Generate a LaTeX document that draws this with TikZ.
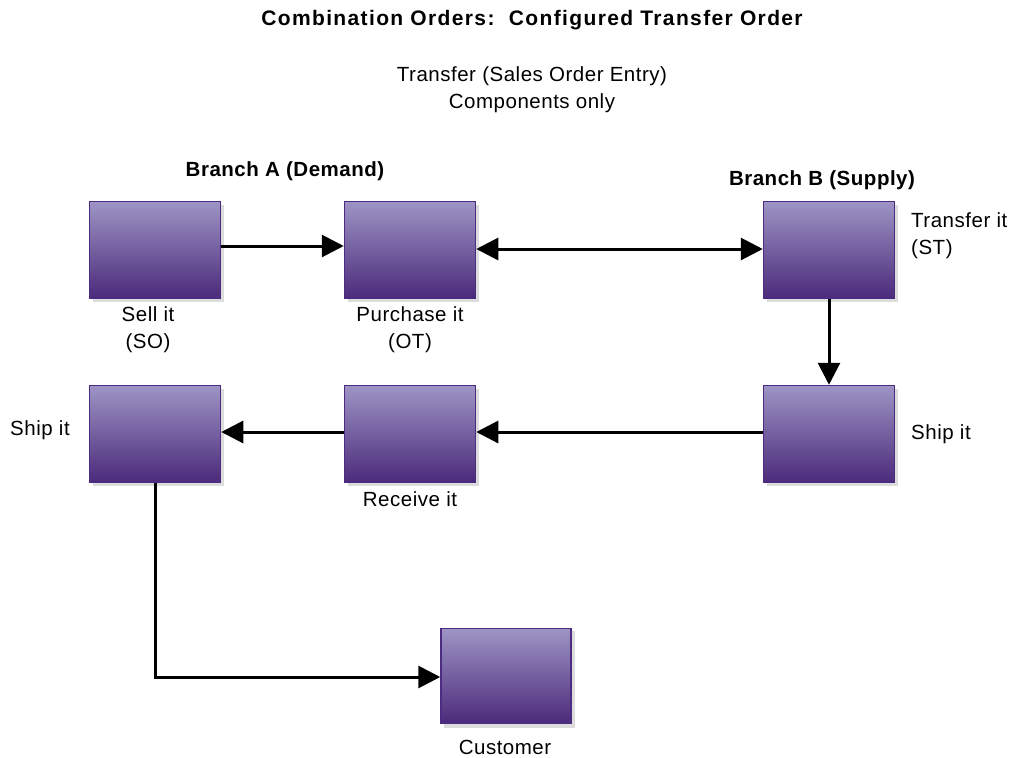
\documentclass[tikz,border=0pt]{standalone}
\usepackage{fontspec}
\setmainfont{Liberation Sans}
\newfontfamily\labelfont[LetterSpace=2.5]{Liberation Sans}
\newfontfamily\titlefont[LetterSpace=6.5]{Liberation Sans}
\usetikzlibrary{arrows.meta}
\definecolor{boxtop}{HTML}{9D94C4}
\definecolor{boxbot}{HTML}{4B2A7B}
\definecolor{boxedge}{HTML}{4B2C80}
\definecolor{shadowgray}{HTML}{DCDCDC}
\begin{document}
\begin{tikzpicture}[x=1pt,y=-1pt,
  stepbox/.style={minimum width=131pt,minimum height=97pt,inner sep=0pt,
    draw=boxedge,line width=1.5pt,top color=boxtop,bottom color=boxbot},
  boxshadow/.style={fill=shadowgray},
  label/.style={font=\labelfont\fontsize{20.5}{27}\selectfont,align=center,inner sep=0pt},
  heading/.style={font=\labelfont\bfseries\fontsize{20.5}{27}\selectfont,inner sep=0pt},
  flow/.style={line width=3pt,-{Triangle[length=22pt,width=22pt]}},
  flowtwo/.style={line width=3pt,{Triangle[length=22pt,width=22pt]}-{Triangle[length=22pt,width=22pt]}}]
\useasboundingbox (0,0) rectangle (1013,758);

% drop shadows under the boxes
\foreach \cx/\cy in {155.5/250.5,410.5/250.5,829.5/250.5,829.5/434.5,410.5/434.5,155.5/434.5,506/676.5}
  \fill[boxshadow] (\cx-62.5,\cy-45.5) rectangle (\cx+68.5,\cy+51.5);

% process boxes
\node[stepbox] (sell)     at (155,250) {};
\node[stepbox] (purchase) at (410,250) {};
\node[stepbox] (transfer) at (829,250) {};
\node[stepbox] (shipb)    at (829,434) {};
\node[stepbox] (receive)  at (410,434) {};
\node[stepbox] (shipa)    at (155,434) {};
\node[stepbox,minimum width=130pt,minimum height=95pt] (customer) at (506,676) {};

% titles
\node[inner sep=0pt,font=\titlefont\bfseries\fontsize{21}{26}\selectfont] (title) at (532,20) {Combination Orders:\ \ Configured Transfer Order};
\node[label] (sub1) at (532,76) {Transfer (Sales Order Entry)};
\node[label] (sub2) at (532,103) {Components only};
\node[heading] (branchA) at (285,171) {Branch A (Demand)};
\node[heading] (branchB) at (822,180) {Branch B (Supply)};

% box labels
\node[label] (lsell) at (148,330) {Sell it\\(SO)};
\node[label] (lpurchase) at (410,330) {Purchase it\\(OT)};
\node[label,align=left,anchor=west] (ltransfer) at (911,236) {Transfer it\\(ST)};
\node[label,anchor=west] (lshipa) at (10,430) {Ship it};
\node[label] (lreceive) at (410,499) {Receive it};
\node[label,anchor=west] (lshipb) at (911,434) {Ship it};
\node[label] (lcustomer) at (505,747) {Customer};

% connectors
\coordinate (bend) at (155,677);
\draw[flow] (sell.east |- 0,246) -- (purchase.west |- 0,246);
\draw[flowtwo] (purchase.east |- 0,249) -- (transfer.west |- 0,249);
\draw[flow] (transfer.south) -- (shipb.north);
\draw[flow] (shipb.west |- 0,432) -- (receive.east |- 0,432);
\draw[flow] (receive.west |- 0,432) -- (shipa.east |- 0,432);
\draw[line width=3pt] (shipa.south) -- (bend);
\draw[flow] ([xshift=-1.5pt]bend) -- (customer.west |- bend);
\end{tikzpicture}
\end{document}
